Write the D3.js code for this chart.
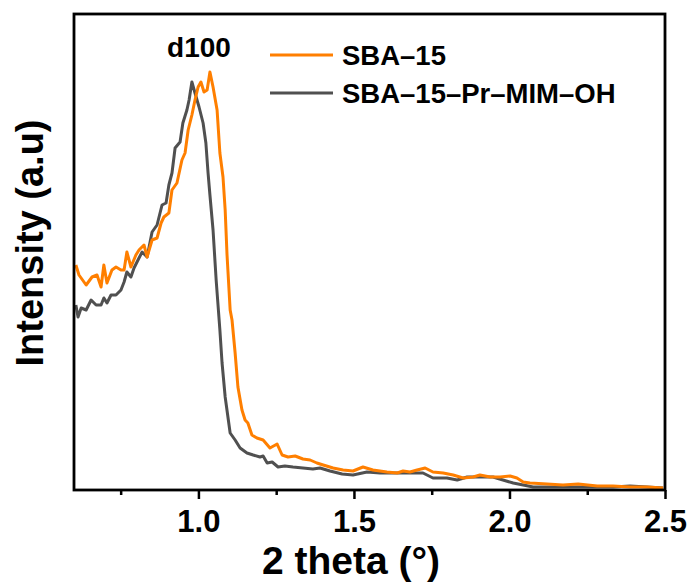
<!DOCTYPE html>
<html>
<head>
<meta charset="utf-8">
<script src="https://cdn.jsdelivr.net/npm/d3@7"></script>
<style>
  body { margin: 0; background: #fff; }
  text { font-family: Arial, "Liberation Sans", sans-serif; font-weight: bold; fill: #000; }
</style>
</head>
<body>
<svg id="chart" width="695" height="588"></svg>
<script>
// Data (2 theta in degrees, intensity in arbitrary units)
var sbaTheta = [0.606, 0.616, 0.639, 0.658, 0.674, 0.687, 0.696, 0.706, 0.722, 0.735, 0.751, 0.761, 0.770, 0.783, 0.799, 0.809, 0.825, 0.835, 0.851, 0.867, 0.880, 0.889, 0.905, 0.915, 0.931, 0.947, 0.957, 0.967, 0.979, 0.989, 0.999, 1.008, 1.018, 1.028, 1.037, 1.047, 1.060, 1.069, 1.079, 1.086, 1.092, 1.102, 1.108, 1.118, 1.127, 1.140, 1.150, 1.159, 1.172, 1.188, 1.208, 1.230, 1.253, 1.269, 1.288, 1.311, 1.336, 1.359, 1.381, 1.401, 1.433, 1.465, 1.497, 1.529, 1.561, 1.606, 1.639, 1.658, 1.680, 1.703, 1.729, 1.754, 1.787, 1.819, 1.851, 1.883, 1.905, 1.938, 1.970, 2.002, 2.024, 2.044, 2.066, 2.121, 2.172, 2.221, 2.282, 2.333, 2.388, 2.442, 2.494]
var sbaInt = [225, 215, 205, 213, 215, 203, 225, 207, 220, 223, 220, 220, 238, 223, 235, 240, 245, 233, 250, 252, 267, 273, 277, 300, 307, 330, 337, 360, 375, 390, 403, 408, 398, 400, 418, 403, 380, 337, 313, 280, 235, 180, 170, 137, 103, 80, 70, 67, 55, 52, 50, 42, 46, 35, 33, 34, 31, 30, 27, 25, 22, 20, 19, 23, 20, 18, 17, 19, 18, 20, 22, 18, 17, 15, 12, 13, 15, 13, 13, 14, 12, 8, 7, 6, 5, 6, 4, 4, 3, 3, 2]

var pmoTheta = [0.606, 0.613, 0.623, 0.639, 0.655, 0.671, 0.687, 0.696, 0.706, 0.719, 0.735, 0.751, 0.761, 0.770, 0.783, 0.793, 0.809, 0.819, 0.835, 0.851, 0.867, 0.883, 0.896, 0.905, 0.915, 0.925, 0.941, 0.950, 0.963, 0.970, 0.979, 0.989, 1.002, 1.015, 1.024, 1.031, 1.037, 1.047, 1.057, 1.069, 1.076, 1.086, 1.102, 1.118, 1.134, 1.156, 1.176, 1.198, 1.208, 1.221, 1.237, 1.256, 1.278, 1.304, 1.336, 1.368, 1.391, 1.423, 1.462, 1.497, 1.542, 1.584, 1.626, 1.671, 1.722, 1.754, 1.799, 1.832, 1.864, 1.905, 1.947, 1.979, 2.012, 2.044, 2.076, 2.140, 2.227, 2.333, 2.388, 2.442, 2.494]
var pmoInt = [185, 173, 182, 180, 190, 185, 185, 192, 187, 195, 195, 200, 208, 218, 213, 222, 232, 238, 233, 258, 265, 285, 287, 305, 317, 342, 348, 367, 380, 390, 408, 397, 383, 367, 347, 317, 295, 260, 210, 160, 127, 93, 57, 50, 42, 37, 35, 33, 34, 27, 28, 23, 24, 23, 22, 21, 22, 19, 16, 15, 18, 17, 17, 17, 17, 12, 12, 10, 13, 13, 13, 10, 7, 5, 3, 3, 3, 3, 4, 3, 2]

var seriesNames = ['SBA\u201315', 'SBA\u201315\u2013Pr\u2013MIM\u2013OH']
var seriesColors = ['#ff7f00', '#505050']
var majorTicks = [1.0, 1.5, 2.0, 2.5]
var minorTicks = [0.75, 1.25, 1.75, 2.25]

var svg = d3.select('#chart')
// plot box (window.top is reserved, so prefixed names)
var plotLeft = 74, plotRight = 665, plotTop = 14, plotBottom = 490

var x = d3.scaleLinear().domain([0.6, 2.5]).range([plotLeft, plotRight])
var y = d3.scaleLinear().domain([0, 476]).range([plotBottom, plotTop])

svg.append('clipPath').attr('id', 'clip')
  .append('rect')
  .attr('x', plotLeft).attr('y', plotTop)
  .attr('width', plotRight - plotLeft).attr('height', plotBottom - plotTop)

var line = d3.line()
  .x(d => x(d[0]))
  .y(d => y(d[1]))

var plot = svg.append('g').attr('clip-path', 'url(#clip)')

// gray first so orange sits on top like in the picture
plot.append('path')
  .datum(d3.zip(pmoTheta, pmoInt))
  .attr('d', line)
  .attr('fill', 'none')
  .attr('stroke', seriesColors[1])
  .attr('stroke-width', 3)
  .attr('stroke-linejoin', 'round')

plot.append('path')
  .datum(d3.zip(sbaTheta, sbaInt))
  .attr('d', line)
  .attr('fill', 'none')
  .attr('stroke', seriesColors[0])
  .attr('stroke-width', 3)
  .attr('stroke-linejoin', 'round')

// bottom axis: major ticks with labels, minor ticks without
var xAxis = d3.axisBottom(x)
  .tickValues(majorTicks)
  .tickFormat(d3.format('.1f'))
  .tickSize(9)
  .tickPadding(4)

var gx = svg.append('g')
  .attr('transform', 'translate(0,' + plotBottom + ')')
  .call(xAxis)
gx.select('.domain').remove()
gx.selectAll('line').attr('stroke', '#000').attr('stroke-width', 2.5)
gx.selectAll('text')
  .style('font-size', '31px')
  .style('font-family', 'Arial, "Liberation Sans", sans-serif')
  .style('font-weight', 'bold')
  .attr('fill', '#000')
  .attr('dy', '0.95em')

svg.append('g')
  .attr('transform', 'translate(0,' + plotBottom + ')')
  .call(d3.axisBottom(x).tickValues(minorTicks).tickFormat('').tickSize(5))
  .call(g => g.select('.domain').remove())
  .selectAll('line').attr('stroke', '#000').attr('stroke-width', 2.5)

// frame
svg.append('rect')
  .attr('x', plotLeft).attr('y', plotTop)
  .attr('width', plotRight - plotLeft).attr('height', plotBottom - plotTop)
  .attr('fill', 'none')
  .attr('stroke', '#000')
  .attr('stroke-width', 2.8)

// axis titles
svg.append('text')
  .attr('x', 351)
  .attr('y', 574)
  .attr('text-anchor', 'middle')
  .style('font-size', '39px')
  .text('2 theta (\u00b0)')

svg.append('text')
  .attr('transform', 'translate(43,243) rotate(-90)')
  .attr('text-anchor', 'middle')
  .style('font-size', '38px')
  .text('Intensity (a.u)')

// peak label
svg.append('text')
  .attr('x', 199)
  .attr('y', 57)
  .attr('text-anchor', 'middle')
  .style('font-size', '28px')
  .text('d100')

// legend
var legend = svg.append('g')
seriesNames.forEach(function(name, i) {
  var ly = 55 + i * 38
  legend.append('line')
    .attr('x1', 270).attr('x2', 333)
    .attr('y1', ly).attr('y2', ly)
    .attr('stroke', seriesColors[i])
    .attr('stroke-width', 3)
  legend.append('text')
    .attr('x', 342)
    .attr('y', ly + 10)
    .style('font-size', '27.5px')
    .text(name)
})
</script>
</body>
</html>
